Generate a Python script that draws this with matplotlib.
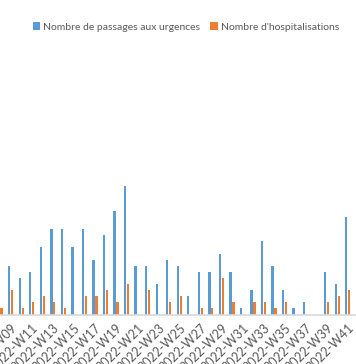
import matplotlib
matplotlib.use("Agg")
import matplotlib.pyplot as plt
import numpy as np

plt.rcParams['font.family'] = ['Lato', 'DejaVu Sans']

# weeks 2022-W08 .. 2022-W42 (chart is cropped on both sides)
weeks = ["2022-W%02d" % w for w in range(8, 43)]
urgences = [6, 8, 6, 7, 11, 14, 14, 11, 14, 9, 13, 17, 21, 8, 8, 5, 9,
            8, 3, 7, 7, 10, 7, 1, 4, 12, 8, 4, 1, 2, 0, 7, 5, 16, 8]
hospitalisations = [1, 4, 1, 2, 3, 2, 1, 0, 3, 3, 4, 2, 5, 0, 4, 0, 2,
                    3, 0, 1, 1, 6, 2, 0, 2, 2, 1, 2, 0, 0, 0, 2, 3, 4, 0]

BLUE = '#5B9BD5'
ORANGE = '#ED7D31'

fig = plt.figure(figsize=(3.56, 3.64), dpi=100)
ax = fig.add_axes([0, 49.5 / 364, 1, 269.5 / 364])

x = np.arange(len(weeks))
w = 0.22
ax.bar(x - 0.14, urgences, width=w, color=BLUE, label='Nombre de passages aux urgences')
ax.bar(x + 0.14, hospitalisations, width=w, color=ORANGE, label="Nombre d'hospitalisations")

ax.set_xlim(-0.015, 33.78)
ax.set_ylim(0, 44.2)
for s in ['top', 'right', 'left']:
    ax.spines[s].set_visible(False)
ax.spines['bottom'].set_color('#D9D9D9')
ax.spines['bottom'].set_linewidth(1.2)
ax.set_yticks([])

ax.set_xticks(x[1::2])
ax.set_xticklabels(weeks[1::2], rotation=45, ha='right', rotation_mode='anchor',
                   fontsize=9, color='#595959')
ax.tick_params(axis='x', length=0, pad=5)

fig.legend(loc='center', bbox_to_anchor=(0.522, 0.926), ncol=2, frameon=False,
           fontsize=7.5, handlelength=0.7, handleheight=0.7, handletextpad=0.3,
           columnspacing=1.0, labelcolor='#595959')

fig.savefig('out.png', dpi=100)
